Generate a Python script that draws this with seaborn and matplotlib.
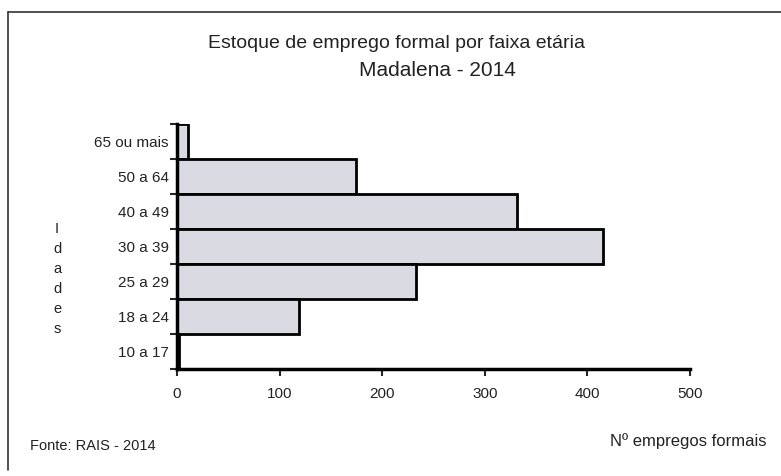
import matplotlib
matplotlib.use("Agg")
import matplotlib.pyplot as plt
from matplotlib.lines import Line2D
import seaborn as sns
import pandas as pd

categories = ["65 ou mais", "50 a 64", "40 a 49", "30 a 39", "25 a 29", "18 a 24", "10 a 17"]
values = [11, 174, 331, 415, 233, 119, 2]
x_ticks = [0, 100, 200, 300, 400, 500]
y_title_letters = list("Idades")

sns.set_style("white")
plt.rcParams['font.family'] = ['Liberation Sans', 'DejaVu Sans']

df = pd.DataFrame({"faixa": categories, "empregos": values})

W, H = 781, 476
fig = plt.figure(figsize=(W / 100, H / 100), dpi=100)
ax = fig.add_axes([177 / W, 1 - 369 / H, 513 / W, 245 / H])

sns.barplot(data=df, x="empregos", y="faixa", order=categories, orient="h",
            color="#DADAE2", saturation=1, width=1.0, edgecolor="black",
            linewidth=2, ax=ax)

ax.set_xlim(0, 500)
ax.set_ylim(6.5, -0.5)
ax.set_xlabel("")
ax.set_ylabel("")

for s in ["top", "right"]:
    ax.spines[s].set_visible(False)
for s in ["left", "bottom"]:
    ax.spines[s].set_linewidth(2.5)
    ax.spines[s].set_color("black")

ax.set_xticks(x_ticks)
ax.set_xticklabels([str(v) for v in x_ticks], fontsize=11, color="#222222")
ax.tick_params(axis="x", direction="out", length=5, width=1.5, pad=8, bottom=True)

# category boundaries as major ticks, labels as minor ticks
ax.set_yticks([i - 0.5 for i in range(len(categories) + 1)])
ax.set_yticklabels([])
ax.tick_params(axis="y", which="major", direction="out", length=5, width=1.5, left=True)
ax.set_yticks(range(len(categories)), minor=True)
ax.set_yticklabels(categories, minor=True, fontsize=11, color="#222222")
ax.tick_params(axis="y", which="minor", length=0, pad=6)

# titles
fig.text(396 / W, 1 - 44 / H, "Estoque de emprego formal por faixa etária",
         ha="center", va="center", fontsize=14, color="#222222")
fig.text(437 / W, 1 - 71 / H, "Madalena - 2014",
         ha="center", va="center", fontsize=15, color="#222222")

# vertical axis title, one letter per line
for i, ch in enumerate(y_title_letters):
    fig.text(57 / W, 1 - (229 + i * 20) / H, ch, ha="center", va="center",
             fontsize=10.5, color="#222222")

# footer texts
fig.text(30 / W, 1 - 446 / H, "Fonte: RAIS - 2014", ha="left", va="center",
         fontsize=10.5, color="#222222",
         family=["Liberation Sans Narrow", "Liberation Sans", "DejaVu Sans"])
fig.text(766 / W, 1 - 441 / H, "Nº empregos formais", ha="right", va="center",
         fontsize=12, color="#222222")

# outer frame (left and top edges visible)
fig.add_artist(Line2D([8 / W, 8 / W], [1 - 470 / H, 1 - 12 / H],
                      transform=fig.transFigure, color="#333333", lw=1.2))
fig.add_artist(Line2D([8 / W, 1.0], [1 - 12 / H, 1 - 12 / H],
                      transform=fig.transFigure, color="#333333", lw=1.2))

fig.savefig("out.png", dpi=100)
